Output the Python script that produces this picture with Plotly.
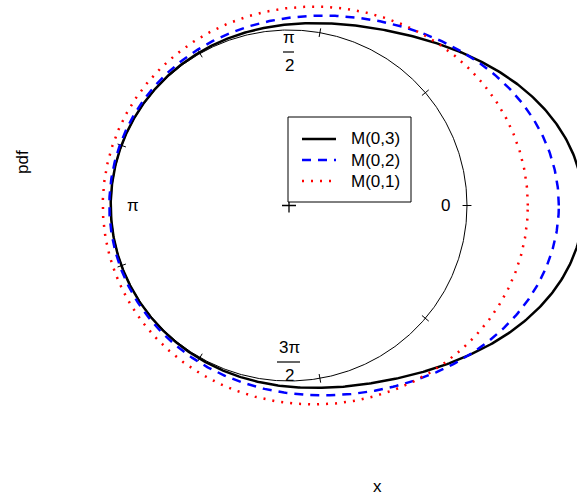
import numpy as np
import plotly.graph_objects as go

# Von Mises densities M(mu, kappa) shown on a circular plot
series_names = ["M(0,3)", "M(0,2)", "M(0,1)"]
series_mu = [0.0, 0.0, 0.0]
series_kappa = [3.0, 2.0, 1.0]
series_colors = ["black", "blue", "red"]
series_dash = ["solid", "9px,7px", "2px,7px"]
series_width = [2.5, 2.5, 2.5]

tick_angles_deg = [0, 40, 80, 120, 160, 200, 240, 280, 320]

W, H = 577, 497
CX, CY = 289.0, 205.5      # pixel centre
RX, RY = 178.0, 175.5      # pixels per unit

theta = np.linspace(0, 2 * np.pi, 721)

fig = go.Figure()

# unit circle
fig.add_trace(go.Scatter(x=np.cos(theta), y=np.sin(theta), mode="lines",
                         line=dict(color="black", width=1), showlegend=False,
                         hoverinfo="skip"))

# tick marks
for a in tick_angles_deg:
    t = np.deg2rad(a)
    fig.add_trace(go.Scatter(x=[0.975 * np.cos(t), 1.025 * np.cos(t)],
                             y=[0.975 * np.sin(t), 1.025 * np.sin(t)],
                             mode="lines", line=dict(color="black", width=1),
                             showlegend=False, hoverinfo="skip"))

# centre cross
fig.add_trace(go.Scatter(x=[0], y=[0], mode="markers",
                         marker=dict(symbol="cross-thin", size=10,
                                     line=dict(color="black", width=1.3)),
                         showlegend=False, hoverinfo="skip"))

for name, mu, k, c, d, w in zip(series_names, series_mu, series_kappa,
                                series_colors, series_dash, series_width):
    pdf = np.exp(k * np.cos(theta - mu)) / (2 * np.pi * np.i0(k))
    r = 1 + pdf
    fig.add_trace(go.Scatter(x=r * np.cos(theta), y=r * np.sin(theta),
                             mode="lines", name=name, showlegend=False,
                             line=dict(color=c, width=w, dash=d)))

def py(p):
    return (CY - p) / RY

def px(p):
    return (p - CX) / RX

def ppx(p):
    return p / W

def ppy(p):
    return 1 - p / H

font = dict(family="Liberation Sans, Arial, sans-serif", size=17, color="black")
ann = []
ann.append(dict(x=px(445), y=0, text="0"))
ann.append(dict(x=px(133), y=0, text="π"))
ann.append(dict(x=0, y=py(37), text="π"))
ann.append(dict(x=0, y=py(65), text="2"))
ann.append(dict(x=0, y=py(347), text="3π"))
ann.append(dict(x=0, y=py(375), text="2"))
annotations = [dict(xref="x", yref="y", showarrow=False, font=font,
                    xanchor="center", yanchor="middle", **a) for a in ann]
annotations.append(dict(xref="paper", yref="paper", x=ppx(377), y=ppy(486),
                        text="x", showarrow=False, font=font,
                        xanchor="center", yanchor="middle"))
annotations.append(dict(xref="paper", yref="paper", x=ppx(22), y=ppy(162),
                        text="pdf", showarrow=False, font=font, textangle=-90,
                        xanchor="center", yanchor="middle"))

shapes = [
    dict(type="line", xref="x", yref="y", x0=px(283), x1=px(294),
         y0=py(52), y1=py(52), line=dict(color="black", width=1.2)),
    dict(type="line", xref="x", yref="y", x0=px(277), x1=px(300),
         y0=py(362), y1=py(362), line=dict(color="black", width=1.2)),
    # legend box
    dict(type="rect", xref="paper", yref="paper", x0=ppx(288), x1=ppx(411),
         y0=ppy(117), y1=ppy(202), line=dict(color="black", width=1),
         fillcolor="white", layer="above"),
]

# legend entries
row_y = [139, 160, 181]
for name, c, d, w, yy in zip(series_names, series_colors, series_dash,
                             series_width, row_y):
    shapes.append(dict(type="line", xref="paper", yref="paper",
                       x0=ppx(302), x1=ppx(336), y0=ppy(yy), y1=ppy(yy),
                       line=dict(color=c, width=w, dash=d), layer="above"))
    annotations.append(dict(xref="paper", yref="paper", x=ppx(349), y=ppy(yy),
                            text=name, showarrow=False, font=font,
                            xanchor="left", yanchor="middle"))

fig.update_layout(
    width=W, height=H,
    margin=dict(l=0, r=0, t=0, b=0),
    paper_bgcolor="white", plot_bgcolor="white",
    xaxis=dict(range=[-CX / RX, (W - CX) / RX], visible=False),
    yaxis=dict(range=[-(H - CY) / RY, CY / RY], visible=False),
    annotations=annotations,
    shapes=shapes,
    showlegend=False,
)

fig.write_html("out.html")
